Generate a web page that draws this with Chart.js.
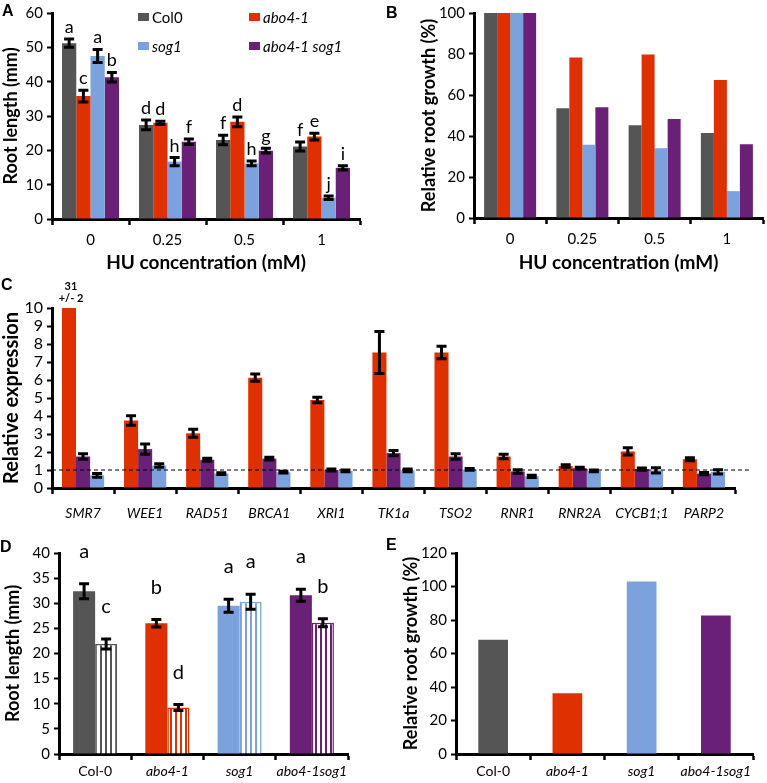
<!DOCTYPE html>
<html lang="en">
<head>
<meta charset="UTF-8" />
<title>Root growth and gene expression</title>
<script src="https://cdn.jsdelivr.net/npm/chart.js"></script>
<style>
  body { margin: 0; background: #fff; font-family: Lato, sans-serif; }
  #fig { position: relative; width: 767px; height: 783px; overflow: hidden; background: #fff; }
  #fig canvas { position: absolute; }
  .panel { position: absolute; font: bold 16px 'Liberation Sans', Arial, sans-serif; line-height: 1; color: #000; }
  .lg { position: absolute; font: 15px Lato, sans-serif; color: #000; display: flex; align-items: center; line-height: 1; }
  .lg .sw { display: inline-block; width: 11px; height: 8px; margin-right: 3px; }
</style>
</head>
<body>
<div id="fig">
  <canvas id="chartA"></canvas>
  <canvas id="chartB"></canvas>
  <canvas id="chartC"></canvas>
  <canvas id="chartD"></canvas>
  <canvas id="chartE"></canvas>
  <div class="panel" style="left:2px;top:3px">A</div>
  <div class="panel" style="left:386px;top:5px">B</div>
  <div class="panel" style="left:1px;top:277px">C</div>
  <div class="panel" style="left:0px;top:539px">D</div>
  <div class="panel" style="left:386px;top:537px">E</div>
</div>

<script>
// ---- panel A / B : HU dose response
const huDoses = ['0', '0.25', '0.5', '1'];
const col0Len = [51.2, 27.4, 23.0, 21.1];
const col0Err = [1.2, 1.4, 1.4, 1.3];
const col0Sig = ['a', 'd', 'f', 'f'];
const abo4Len = [35.8, 28.0, 28.3, 24.0];
const abo4Err = [1.7, 0.5, 1.4, 1.0];
const abo4Sig = ['c', 'd', 'd', 'e'];
const sog1Len = [47.5, 16.7, 16.2, 6.2];
const sog1Err = [1.9, 1.2, 0.7, 0.5];
const sog1Sig = ['a', 'h', 'h', 'j'];
const dblLen = [41.3, 22.5, 19.9, 14.9];
const dblErr = [1.4, 0.8, 0.7, 0.6];
const dblSig = ['b', 'f', 'g', 'i'];

const col0Rel = [100, 53.5, 45.2, 41.5];
const abo4Rel = [100, 78.3, 79.7, 67.3];
const sog1Rel = [100, 35.7, 34.0, 13.1];
const dblRel = [100, 54.0, 48.3, 36.0];

// ---- panel C : relative expression
const genes = ['SMR7', 'WEE1', 'RAD51', 'BRCA1', 'XRI1', 'TK1a', 'TSO2', 'RNR1', 'RNR2A', 'CYCB1;1', 'PARP2'];
const exprAbo4 = [31, 3.75, 3.04, 6.13, 4.89, 7.53, 7.53, 1.75, 1.22, 2.03, 1.6];
const exprAbo4Err = [2, 0.26, 0.22, 0.2, 0.15, 1.17, 0.35, 0.13, 0.07, 0.2, 0.08];
const exprDbl = [1.75, 2.16, 1.57, 1.63, 1.0, 1.94, 1.75, 0.92, 1.1, 1.05, 0.8];
const exprDblErr = [0.15, 0.28, 0.08, 0.08, 0.06, 0.15, 0.15, 0.1, 0.05, 0.06, 0.06];
const exprSog1 = [0.7, 1.25, 0.8, 0.88, 0.95, 0.98, 1.03, 0.65, 0.95, 0.98, 0.9];
const exprSog1Err = [0.1, 0.1, 0.05, 0.05, 0.05, 0.08, 0.05, 0.06, 0.05, 0.15, 0.12];
const exprBaseline = 1;

// ---- panel D / E : genotypes with and without treatment
const genotypes = ['Col-0', 'abo4-1', 'sog1', 'abo4-1sog1'];
const ctrlLen = [32.4, 26.0, 29.5, 31.6];
const ctrlErr = [1.5, 0.75, 1.3, 1.2];
const ctrlSig = ['a', 'b', 'a', 'a'];
const treatLen = [21.9, 9.25, 30.3, 26.1];
const treatErr = [1.0, 0.6, 1.5, 0.8];
const treatSig = ['c', 'd', 'a', 'b'];
const relGrowth = [68.2, 36.3, 103, 82.7];

const C0 = '#555555', RED = '#de3000', BLUE = '#7ba2dc', PURPLE = '#6a2077';

Chart.defaults.font.family = 'Lato, sans-serif';
Chart.defaults.color = '#000';

function stripes(color) {
  const c = document.createElement('canvas');
  c.width = 5; c.height = 5;
  const g = c.getContext('2d');
  g.fillStyle = '#fff'; g.fillRect(0, 0, 5, 5);
  g.fillStyle = color; g.fillRect(0, 0, 2, 5);
  return g.createPattern(c, 'repeat');
}

function place(id, left, top, w, h) {
  const c = document.getElementById(id);
  c.width = w; c.height = h;
  c.style.left = left + 'px'; c.style.top = top + 'px';
  c.style.width = w + 'px'; c.style.height = h + 'px';
  return c;
}

// error bars, significance letters and off-scale values
const errorBars = {
  id: 'errorBars',
  afterDatasetsDraw(chart, args, opts) {
    const { ctx, chartArea: ca } = chart;
    const y = chart.scales.y;
    chart.data.datasets.forEach((ds, di) => {
      const meta = chart.getDatasetMeta(di);
      meta.data.forEach((bar, i) => {
        const v = ds.data[i];
        const e = ds.errors ? ds.errors[i] : null;
        let top = y.getPixelForValue(v);
        if (e != null) {
          const hi = y.getPixelForValue(v + e), lo = y.getPixelForValue(v - e);
          top = hi;
          if (v - e < y.max) {
            ctx.save();
            ctx.beginPath();
            ctx.rect(ca.left, ca.top, ca.right - ca.left, ca.bottom - ca.top);
            ctx.clip();
            ctx.strokeStyle = '#000';
            ctx.lineWidth = 3;
            ctx.beginPath();
            ctx.moveTo(bar.x, hi); ctx.lineTo(bar.x, lo);
            ctx.moveTo(bar.x - 5, hi); ctx.lineTo(bar.x + 5, hi);
            ctx.moveTo(bar.x - 5, lo); ctx.lineTo(bar.x + 5, lo);
            ctx.stroke();
            ctx.restore();
          }
        }
        if (v > y.max) {
          ctx.save();
          ctx.fillStyle = '#000';
          ctx.font = 'bold 11px Lato, sans-serif';
          ctx.textAlign = 'center';
          ctx.textBaseline = 'middle';
          ctx.fillText(String(v), bar.x + 2, ca.top - 22);
          ctx.fillText('+/- ' + e, bar.x + 2, ca.top - 10);
          ctx.restore();
        }
        if (ds.letters) {
          ctx.save();
          ctx.fillStyle = '#000';
          ctx.font = (opts.letterSize || 17) + 'px Lato, sans-serif';
          ctx.textAlign = 'center';
          ctx.textBaseline = 'alphabetic';
          ctx.fillText(ds.letters[i], bar.x, top - (opts.gap || 6));
          ctx.restore();
        }
      });
    });
  }
};

const baseLine = {
  id: 'baseLine',
  afterDatasetsDraw(chart, args, opts) {
    if (opts.value == null) return;
    const { ctx, chartArea: ca } = chart;
    const py = chart.scales.y.getPixelForValue(opts.value);
    ctx.save();
    ctx.strokeStyle = '#000';
    ctx.lineWidth = 1;
    ctx.setLineDash([4, 3]);
    ctx.beginPath();
    ctx.moveTo(ca.left, py);
    ctx.lineTo(ca.right + (opts.extend || 0), py);
    ctx.stroke();
    ctx.restore();
  }
};

Chart.register(errorBars, baseLine);

function axes(o) {
  return {
    x: {
      z: 1,
      grid: { display: true, drawOnChartArea: false, offset: true, tickLength: 6, tickWidth: 2.5, tickColor: '#000' },
      border: { display: true, color: '#000', width: 3 },
      ticks: {
        color: '#000', padding: o.xPad, maxRotation: 0, autoSkip: false,
        font: (c) => ({ size: o.xFont, style: o.italic && o.italic(c.tick ? c.tick.label : '') ? 'italic' : 'normal' })
      },
      title: o.xTitle
        ? { display: true, text: o.xTitle, color: '#000', font: { size: 19, weight: 'bold' }, padding: { top: 0, bottom: o.xTitlePad } }
        : { display: false },
      afterFit: (s) => { s.height = o.xH; }
    },
    y: {
      z: 1, min: 0, max: o.yMax,
      grid: { drawOnChartArea: false, tickLength: 5, tickWidth: 2, tickColor: '#000' },
      border: { display: true, color: '#000', width: 3 },
      ticks: { stepSize: o.yStep, autoSkip: false, color: '#000', padding: 4, font: { size: o.yFont } },
      title: { display: true, text: o.yTitle, color: '#000', font: { size: o.yTitleSize || 18, weight: 'bold' }, padding: { top: o.yTitlePad, bottom: 0 } },
      afterFit: (s) => { s.width = o.yW; }
    }
  };
}

function baseOptions(pad, scales, plugins) {
  return {
    responsive: false,
    animation: false,
    events: [],
    devicePixelRatio: 1,
    layout: { padding: pad },
    scales,
    plugins: Object.assign({ legend: { display: false }, tooltip: { enabled: false } }, plugins)
  };
}

const mutant = (l) => l !== 'Col-0';

// ---- A
new Chart(place('chartA', 0, 0, 390, 280), {
  type: 'bar',
  data: {
    labels: huDoses,
    datasets: [
      { label: 'Col0', data: col0Len, errors: col0Err, letters: col0Sig, backgroundColor: C0 },
      { label: 'abo4-1', data: abo4Len, errors: abo4Err, letters: abo4Sig, backgroundColor: RED },
      { label: 'sog1', data: sog1Len, errors: sog1Err, letters: sog1Sig, backgroundColor: BLUE },
      { label: 'abo4-1 sog1', data: dblLen, errors: dblErr, letters: dblSig, backgroundColor: PURPLE }
    ]
  },
  options: Object.assign(baseOptions({ left: 0, top: 13, right: 30, bottom: 0 },
    axes({ yMax: 60, yStep: 10, yW: 52, xH: 61, yTitle: 'Root length (mm)', yTitlePad: 0,
      xTitle: 'HU concentration (mM)', xTitlePad: 6, xFont: 15, yFont: 15, xPad: 6 }),
    { errorBars: { gap: 6, letterSize: 18 } }),
    { datasets: { bar: { categoryPercentage: 0.74, barPercentage: 1 } } })
});

// legend of A, built from the series names
[['Col0', C0, 138, 17], ['abo4-1', RED, 249, 17], ['sog1', BLUE, 138, 46], ['abo4-1 sog1', PURPLE, 249, 46]]
  .forEach(([name, col, x, y]) => {
    const d = document.createElement('div');
    d.className = 'lg';
    d.style.left = x + 'px';
    d.style.top = (y - 8) + 'px';
    d.style.height = '16px';
    d.innerHTML = `<span class="sw" style="background:${col}"></span><span style="font-style:${name === 'Col0' ? 'normal' : 'italic'}">${name}</span>`;
    document.getElementById('fig').appendChild(d);
  });

// ---- B
new Chart(place('chartB', 390, 0, 377, 280), {
  type: 'bar',
  data: {
    labels: huDoses,
    datasets: [
      { label: 'Col0', data: col0Rel, backgroundColor: C0 },
      { label: 'abo4-1', data: abo4Rel, backgroundColor: RED },
      { label: 'sog1', data: sog1Rel, backgroundColor: BLUE },
      { label: 'abo4-1 sog1', data: dblRel, backgroundColor: PURPLE }
    ]
  },
  options: Object.assign(baseOptions({ left: 0, top: 13, right: 4, bottom: 0 },
    axes({ yMax: 100, yStep: 20, yW: 84, xH: 62, yTitle: 'Relative root growth (%)', yTitlePad: 28,
      xTitle: 'HU concentration (mM)', xTitlePad: 6, xFont: 15, yFont: 15, xPad: 6 })),
    { datasets: { bar: { categoryPercentage: 0.72, barPercentage: 1 } } })
});

// ---- C
new Chart(place('chartC', 0, 275, 767, 270), {
  type: 'bar',
  data: {
    labels: genes,
    datasets: [
      { label: 'abo4-1', data: exprAbo4, errors: exprAbo4Err, backgroundColor: RED },
      { label: 'abo4-1 sog1', data: exprDbl, errors: exprDblErr, backgroundColor: PURPLE },
      { label: 'sog1', data: exprSog1, errors: exprSog1Err, backgroundColor: BLUE }
    ]
  },
  options: Object.assign(baseOptions({ left: 0, top: 33, right: 32, bottom: 0 },
    axes({ yMax: 10, yStep: 1, yW: 52, xH: 57, yTitle: 'Relative expression', yTitlePad: 0, yTitleSize: 20,
      xFont: 14, yFont: 16, xPad: 11, italic: () => true }),
    { baseLine: { value: exprBaseline, extend: 17 } }),
    { datasets: { bar: { categoryPercentage: 0.68, barPercentage: 1 } } })
});

// ---- D
new Chart(place('chartD', 0, 540, 380, 243), {
  type: 'bar',
  data: {
    labels: genotypes,
    datasets: [
      { label: 'control', data: ctrlLen, errors: ctrlErr, letters: ctrlSig,
        backgroundColor: [C0, RED, BLUE, PURPLE] },
      { label: 'HU', data: treatLen, errors: treatErr, letters: treatSig,
        backgroundColor: [C0, RED, BLUE, PURPLE].map(stripes),
        borderColor: [C0, RED, BLUE, PURPLE], borderWidth: 1.5, borderSkipped: 'bottom' }
    ]
  },
  options: Object.assign(baseOptions({ left: 0, top: 8, right: 32, bottom: 0 },
    axes({ yMax: 40, yStep: 5, yW: 59, xH: 29, yTitle: 'Root length (mm)', yTitlePad: 2,
      xFont: 14, yFont: 15, xPad: 3, italic: mutant }),
    { errorBars: { gap: 26, letterSize: 20 } }),
    { datasets: { bar: { categoryPercentage: 0.61, barPercentage: 1 } } })
});

// ---- E
new Chart(place('chartE', 380, 540, 387, 243), {
  type: 'bar',
  data: {
    labels: genotypes,
    datasets: [
      { label: 'relative growth', data: relGrowth, backgroundColor: [C0, RED, BLUE, PURPLE] }
    ]
  },
  options: Object.assign(baseOptions({ left: 0, top: 7, right: 14, bottom: 0 },
    axes({ yMax: 120, yStep: 20, yW: 76, xH: 29, yTitle: 'Relative root growth (%)', yTitlePad: 20,
      xFont: 14, yFont: 15, xPad: 3, italic: mutant })),
    { datasets: { bar: { categoryPercentage: 0.4, barPercentage: 1 } } })
});
</script>
</body>
</html>
